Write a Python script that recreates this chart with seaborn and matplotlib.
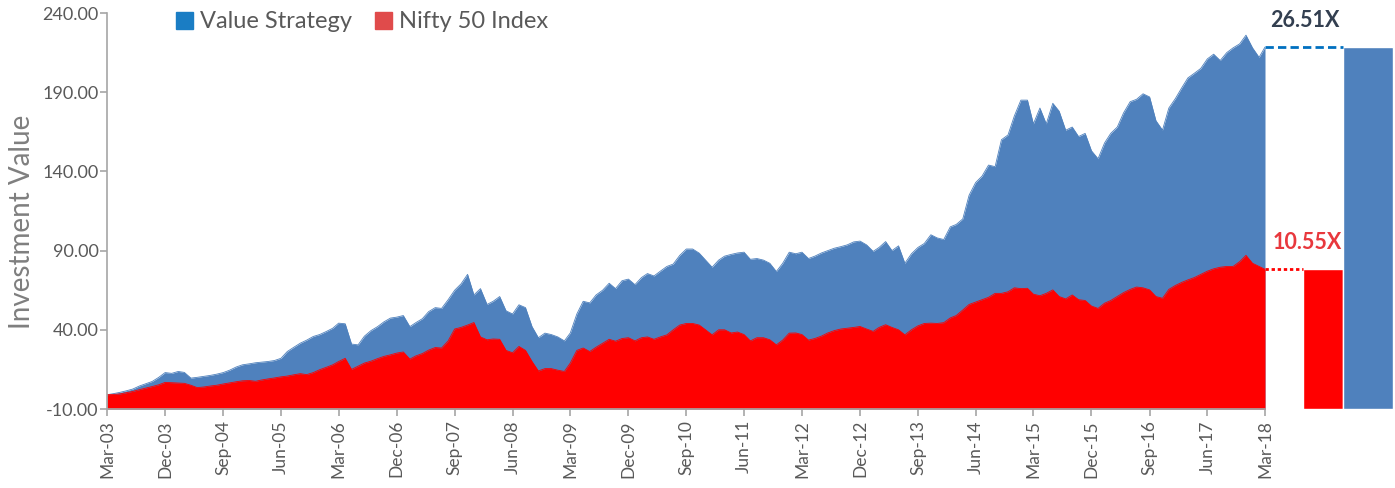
import numpy as np
import pandas as pd
import matplotlib
matplotlib.use("Agg")
import matplotlib.pyplot as plt
import matplotlib.dates as mdates
from matplotlib.patches import Patch
import seaborn as sns

# monthly values, Mar-03 .. Mar-18
dates = pd.date_range("2003-03-01", "2018-03-01", freq="MS")

value_strategy = [
    -1.0, -0.3, 0.5, 1.5, 2.6, 4.5, 6.0, 7.4, 10.0, 13.0,
    12.5, 13.7, 13.1, 9.5, 10.0, 10.6, 11.2, 12.0, 13.0, 14.5,
    16.5, 17.9, 18.5, 19.2, 19.6, 20.0, 20.6, 22.0, 26.3, 29.0,
    31.6, 33.5, 35.8, 37.0, 38.9, 41.0, 44.2, 43.8, 31.0, 30.5,
    36.0, 39.5, 42.0, 45.0, 47.4, 48.0, 49.0, 42.0, 44.5, 47.0,
    51.5, 54.0, 53.5, 59.0, 65.0, 69.0, 75.0, 62.0, 66.0, 56.0,
    58.0, 61.0, 52.0, 50.0, 55.8, 54.0, 42.0, 35.0, 37.9, 37.0,
    35.5, 33.0, 38.0, 50.0, 58.0, 57.0, 62.0, 65.0, 69.4, 66.0,
    71.0, 72.0, 68.5, 73.0, 75.5, 74.0, 77.0, 80.0, 81.5, 87.0,
    91.0, 91.0, 88.4, 84.0, 79.5, 84.0, 86.5, 87.6, 88.5, 89.0,
    84.5, 85.0, 84.0, 82.0, 76.8, 82.0, 89.0, 88.0, 89.0, 85.0,
    86.5, 88.5, 90.0, 91.5, 92.5, 93.6, 95.5, 96.0, 93.6, 89.5,
    92.0, 95.7, 90.0, 93.0, 82.0, 88.0, 92.0, 94.5, 100.0, 98.0,
    97.0, 105.0, 106.5, 110.0, 125.0, 133.0, 137.0, 144.0, 143.0, 160.0,
    163.0, 175.0, 185.0, 185.0, 170.0, 180.0, 170.0, 183.0, 178.0, 166.0,
    168.0, 162.0, 164.0, 153.0, 148.0, 158.0, 164.0, 168.0, 177.0, 184.0,
    185.5, 189.0, 187.0, 172.0, 166.1, 180.0, 186.0, 193.0, 199.0, 202.0,
    205.0, 211.0, 214.0, 210.0, 215.0, 218.0, 220.5, 226.0, 218.0, 212.0,
    218.5,
]

nifty = [
    -1.0, -0.8, -0.5, 0.3, 1.1, 2.2, 3.2, 4.2, 5.3, 6.8,
    6.6, 6.4, 6.2, 5.0, 3.5, 3.9, 4.5, 5.0, 5.8, 6.5,
    7.2, 7.8, 8.0, 7.5, 8.3, 9.0, 9.6, 10.3, 10.8, 11.6,
    12.3, 11.7, 13.0, 14.8, 16.3, 17.9, 20.0, 22.0, 15.0, 17.0,
    19.0, 20.2, 21.8, 23.2, 24.2, 25.3, 26.0, 21.5, 23.5, 25.0,
    27.2, 28.8, 28.5, 33.0, 40.5, 41.5, 43.0, 44.6, 35.5, 33.7,
    34.2, 34.0, 27.0, 25.5, 29.5, 27.0, 20.0, 14.0, 15.5, 15.5,
    14.5, 13.7, 19.0, 27.0, 28.5, 26.3, 29.0, 31.5, 34.0, 32.8,
    34.5, 35.0, 33.0, 35.0, 35.5, 34.0, 35.5, 36.8, 40.0, 43.0,
    44.0, 44.0, 43.0, 40.0, 36.8, 40.0, 40.0, 38.0, 38.6, 37.0,
    33.0, 35.0, 35.0, 33.7, 30.5, 33.5, 37.9, 38.0, 37.0, 33.5,
    34.5, 36.0, 38.0, 39.5, 40.5, 41.0, 41.5, 42.1, 40.5, 39.0,
    41.5, 43.2, 41.5, 40.0, 36.8, 40.0, 42.5, 44.0, 44.2, 44.0,
    44.5, 47.5, 49.0, 52.5, 56.0, 57.5, 59.0, 60.5, 63.0, 63.0,
    64.0, 66.5, 66.0, 66.2, 62.5, 61.5, 63.0, 65.2, 61.0, 59.5,
    62.0, 59.0, 58.5, 55.0, 53.5, 56.8, 58.5, 61.0, 63.5, 65.5,
    67.0, 66.5, 65.2, 61.0, 59.9, 65.5, 68.0, 70.0, 71.5, 73.0,
    75.0, 77.0, 78.5, 79.5, 80.0, 80.0, 83.0, 87.0, 82.0, 80.0,
    78.2,
]

series_names = ["Nifty 50 Index", "Value Strategy"]
multiples = ["10.55X", "26.51X"]
y_ticks = [-10, 40, 90, 140, 190, 240]

BLUE = "#4f81bd"
RED = "#ff0000"
GREY = "#595959"
AXIS = "#a6a6a6"
BASE = -10

sns.set_style("white")
plt.rcParams["font.family"] = ["Lato", "DejaVu Sans"]

fig = plt.figure(figsize=(13.95, 4.88), dpi=100)
W, H = 1395, 488
ax = fig.add_axes([107 / W, 1 - 409 / H, (1265 - 107) / W, (409 - 13) / H])

# areas, blue behind red
sns.lineplot(x=dates, y=value_strategy, color=BLUE, lw=0.6, ax=ax)
ax.fill_between(dates, value_strategy, BASE, color=BLUE, lw=0)
sns.lineplot(x=dates, y=nifty, color=RED, lw=0.6, ax=ax)
ax.fill_between(dates, nifty, BASE, color=RED, lw=0)

ax.set_xlim(dates[0], dates[-1])
ax.set_ylim(BASE, 240)
ax.set_yticks(y_ticks)
ax.set_yticklabels([f"{t:.2f}" for t in y_ticks])
xt = pd.date_range("2003-03-01", "2018-03-01", freq="9MS")
ax.set_xticks(xt)
ax.set_xticklabels([d.strftime("%b-%y") for d in xt], rotation=90)
ax.tick_params(axis="both", colors=AXIS, labelcolor=GREY, length=5, width=1.2,
               direction="out", left=True, bottom=True)
ax.tick_params(axis="y", labelsize=13, pad=1)
ax.tick_params(axis="x", labelsize=12.5, pad=3)
for s in ["top", "right"]:
    ax.spines[s].set_visible(False)
for s in ["left", "bottom"]:
    ax.spines[s].set_color(AXIS)
    ax.spines[s].set_linewidth(1.2)
ax.set_xlabel("")
ax.set_ylabel("")

fig.text(22 / W, 1 - 222 / H, "Investment Value", rotation=90, ha="center",
         va="center", fontsize=20, color="#7f7f7f")

# ending values as bars on the right, drawn up from the axis floor
ax2 = fig.add_axes([1265 / W, 1 - 409 / H, (W - 1265) / W, (409 - 13) / H])
ends = [nifty[-1], value_strategy[-1]]
sns.barplot(x=series_names, y=ends, hue=series_names, palette=[RED, BLUE],
            width=1.0, saturation=1, legend=False, ax=ax2)
for p, v in zip(ax2.patches, ends):
    p.set_y(BASE)
    p.set_height(v - BASE)
ax2.patches[1].set_width(1.25)
ax2.set_xlim(-1.45, 1.8)
ax2.set_ylim(BASE, 240)
ax2.axis("off")
ax2.hlines(ends[1], -1.45, 0.5, color="#0070c0", lw=2, linestyles=(0, (3, 1.5)))
ax2.hlines(ends[0], -1.45, -0.5, color=RED, lw=2, linestyles=(0, (1.2, 1)))
ax2.text(-0.45, 235.5, multiples[1], ha="center", va="center", fontsize=15.5,
         fontweight="bold", color="#333f50")
ax2.text(-0.4, 95, multiples[0], ha="center", va="center", fontsize=15.5,
         fontweight="bold", color="#e8383d")

handles = [Patch(color="#1a7dc4", label=series_names[1]),
           Patch(color="#e04b4b", label=series_names[0])]
fig.legend(handles=handles, loc="center left", bbox_to_anchor=(155 / W, 1 - 22 / H),
           ncol=2, frameon=False, fontsize=17, handlelength=0.7, handleheight=0.7,
           handletextpad=0.3, columnspacing=1.0, labelcolor=GREY)

fig.savefig("out.png", dpi=100)
